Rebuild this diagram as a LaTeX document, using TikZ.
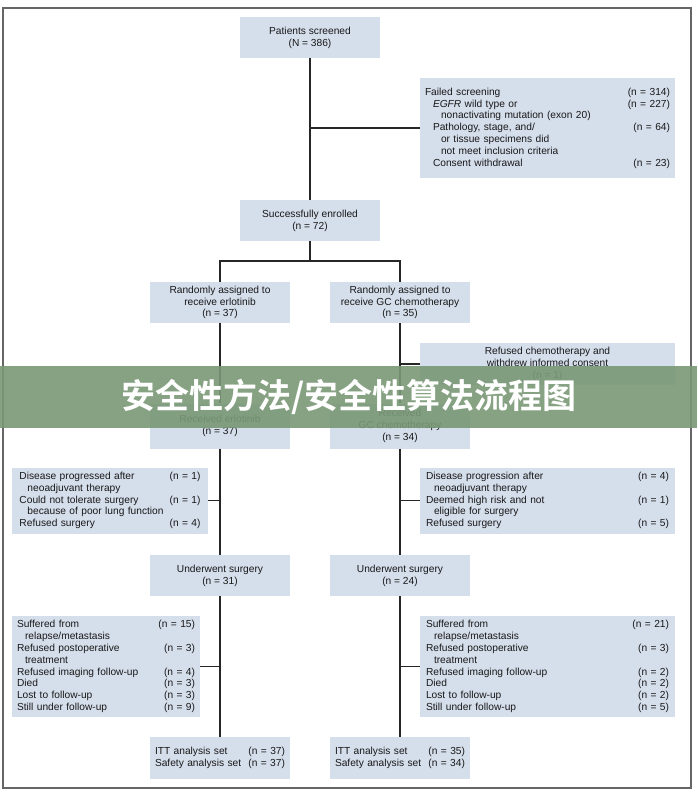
\documentclass[tikz,border=0pt]{standalone}
\usepackage{fontspec}
\setmainfont{Liberation Sans}
\newfontfamily\cjkfont{Noto Sans CJK SC}[BoldFont={Noto Sans CJK SC Bold}]

\definecolor{boxfill}{RGB}{213,222,235}
\definecolor{bannerfill}{RGB}{122,152,118}
\newcommand\ncount[1]{\hskip0pt plus1filll(n = #1)}
\newcommand\subind{\hspace*{8pt}}

\tikzset{
	flowbox/.style={fill=boxfill, text=black!90, align=center, minimum width=140pt,
		minimum height=41pt, inner sep=3pt, font=\fontsize{10.2}{11.8}\selectfont},
	listbox/.style={flowbox, align=left, inner xsep=5pt, inner ysep=4pt},
	link/.style={draw=black!85, line width=1.7pt},
}

\begin{document}
\begin{tikzpicture}[x=1pt, y=-1pt]
		\useasboundingbox (0,0) rectangle (697,794);
		
		% ==========================================
		% FRAME
		% ==========================================
		\draw[black!60, line width=1.4pt] (3,8) rectangle (691,788);
		
		% ==========================================
		% SCREENING & ENROLMENT
		% ==========================================
		\node[flowbox] (screened) at (310,37.5) {Patients screened\\(N = 386)};
		\node[listbox, text width=245pt, minimum height=100pt] (failed) at (547.5,128) {
			Failed screening \ncount{314}\\
			\subind\textit{EGFR} wild type or \ncount{227}\\
			\subind\subind nonactivating mutation (exon 20)\\
			\subind Pathology, stage, and/ \ncount{64}\\
			\subind\subind or tissue specimens did\\
			\subind\subind not meet inclusion criteria\\
			\subind Consent withdrawal \ncount{23}\\[4pt]};
		\node[flowbox] (enrolled) at (310,220.5) {Successfully enrolled\\(n = 72)};
		
		% ==========================================
		% RANDOMISATION
		% ==========================================
		\node[flowbox] (randE) at (220,302.5) {Randomly assigned to\\receive erlotinib\\(n = 37)};
		\node[flowbox] (randG) at (400,302.5) {Randomly assigned to\\receive GC chemotherapy\\(n = 35)};
		\node[flowbox, minimum width=255pt, minimum height=42pt] (refused) at (547.5,364)
			{Refused chemotherapy and\\withdrew informed consent\\(n = 1)};
		\node[flowbox, minimum height=45pt] (recE) at (220,426) {Received erlotinib\\(n = 37)};
		\node[flowbox, minimum height=45pt] (recG) at (400,426) {Received\\GC chemotherapy\\(n = 34)};
		
		% ==========================================
		% SURGERY
		% ==========================================
		\node[listbox, text width=181pt, minimum width=196pt, minimum height=66pt] (exclE) at (110,500.5) {
			Disease progressed after \ncount{1}\\
			\subind neoadjuvant therapy\\
			Could not tolerate surgery \ncount{1}\\
			\subind because of poor lung function\\
			Refused surgery \ncount{4}};
		\node[listbox, text width=243pt, minimum width=255pt, minimum height=66pt] (exclG) at (547.5,500.5) {
			Disease progression after \ncount{4}\\
			\subind neoadjuvant therapy\\
			Deemed high risk and not \ncount{1}\\
			\subind eligible for surgery\\
			Refused surgery \ncount{5}};
		\node[flowbox] (surgE) at (220,575.5) {Underwent surgery\\(n = 31)};
		\node[flowbox] (surgG) at (400,575.5) {Underwent surgery\\(n = 24)};
		
		% ==========================================
		% FOLLOW-UP & ANALYSIS SETS
		% ==========================================
		\node[listbox, text width=178pt, minimum width=188pt, minimum height=101pt] (followE) at (106,666.5) {
			Suffered from \ncount{15}\\
			\subind relapse/metastasis\\
			Refused postoperative \ncount{3}\\
			\subind treatment\\
			Refused imaging follow-up \ncount{4}\\
			Died \ncount{3}\\
			Lost to follow-up \ncount{3}\\
			Still under follow-up \ncount{9}};
		\node[listbox, text width=243pt, minimum width=255pt, minimum height=101pt] (followG) at (547.5,666.5) {
			Suffered from \ncount{21}\\
			\subind relapse/metastasis\\
			Refused postoperative \ncount{3}\\
			\subind treatment\\
			Refused imaging follow-up \ncount{2}\\
			Died \ncount{2}\\
			Lost to follow-up \ncount{2}\\
			Still under follow-up \ncount{5}};
		\node[listbox, text width=130pt, minimum height=42pt] (ittE) at (220,758) {
			ITT analysis set \ncount{37}\\
			Safety analysis set \ncount{37}};
		\node[listbox, text width=130pt, minimum height=42pt] (ittG) at (400,758) {
			ITT analysis set \ncount{35}\\
			Safety analysis set \ncount{34}};
		
		% ==========================================
		% CONNECTORS
		% ==========================================
		\coordinate (split) at (310,261);
		\draw[link] (screened) -- (enrolled);
		\draw[link] (failed.west) -- (failed.west -| screened);
		\draw[link] (enrolled) -- (split);
		\draw[link] (randE.north) |- (split) -| (randG.north);
		\draw[link] (randE) -- (recE);
		\draw[link] (randG) -- (recG);
		\draw[link] (refused.west) -- (refused.west -| randG);
		\draw[link] (recE) -- (surgE);
		\draw[link] (recG) -- (surgG);
		\draw[link] (exclE.east) -- (exclE.east -| recE);
		\draw[link] (exclG.west) -- (exclG.west -| recG);
		\draw[link] (surgE) -- (ittE);
		\draw[link] (surgG) -- (ittG);
		\draw[link] (followE.east) -- (followE.east -| surgE);
		\draw[link] (followG.west) -- (followG.west -| surgG);
		
		% ==========================================
		% BANNER
		% ==========================================
		\fill[bannerfill, fill opacity=0.9] (0,366) rectangle (697,428);
		\node[text=white, font=\fontsize{34}{36}\selectfont\cjkfont\bfseries] (banner) at (349,397)
			{安全性方法/安全性算法流程图};
		
	\end{tikzpicture}
\end{document}
